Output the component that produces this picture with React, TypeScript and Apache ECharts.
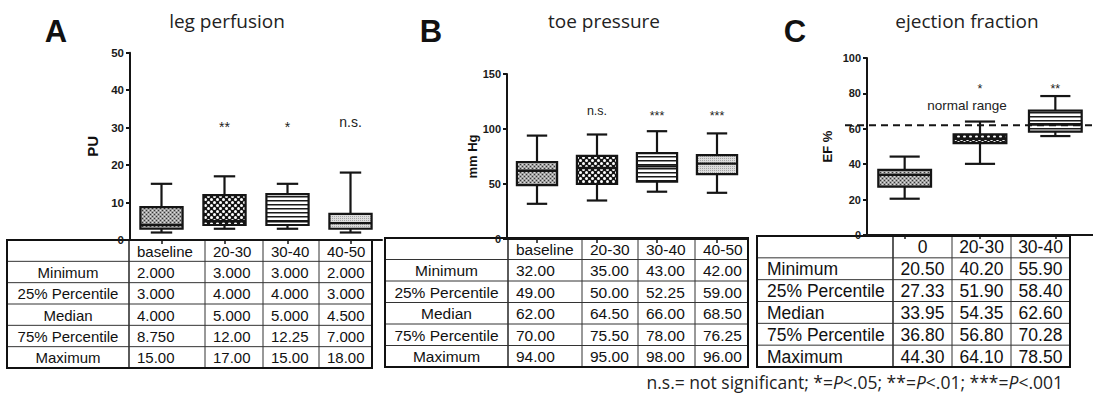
import React, { useEffect, useRef } from 'react';
import * as echarts from 'echarts';

// ---------------- DATA ----------------
const rowLabels = ['Minimum', '25% Percentile', 'Median', '75% Percentile', 'Maximum'];

const catsA = ['baseline', '20-30', '30-40', '40-50'];
const minA = [2, 3, 3, 2];
const q1A = [3, 4, 4, 3];
const medA = [4, 5, 5, 4.5];
const q3A = [8.75, 12, 12.25, 7];
const maxA = [15, 17, 15, 18];
const sigA = ['', '**', '*', 'n.s.'];
const sigLevelA = 31.5;

const catsB = ['baseline', '20-30', '30-40', '40-50'];
const minB = [32, 35, 43, 42];
const q1B = [49, 50, 52.25, 59];
const medB = [62, 64.5, 66, 68.5];
const q3B = [70, 75.5, 78, 76.25];
const maxB = [94, 95, 98, 96];
const sigB = ['', 'n.s.', '***', '***'];
const sigLevelB = 116;

const catsC = ['0', '20-30', '30-40'];
const minC = [20.5, 40.2, 55.9];
const q1C = [27.33, 51.9, 58.4];
const medC = [33.95, 54.35, 62.6];
const q3C = [36.8, 56.8, 70.28];
const maxC = [44.3, 64.1, 78.5];
const sigC = ['', '*', '**'];
const sigLevelC = 85;
const normalRangeEF = 62;

// ---------------- STYLE / LAYOUT ----------------
const FONT = '"Liberation Sans", Arial, sans-serif';
const TFONT = '"Open Sans", "Noto Sans", sans-serif';
const INK = '#151515';

const stats = (mn: number[], q1: number[], md: number[], q3: number[], mx: number[]) =>
  mn.map((_, i) => [mn[i], q1[i], md[i], q3[i], mx[i]]);

function makePatterns() {
  const mk = (w: number, h: number, draw: (ctx: CanvasRenderingContext2D) => void) => {
    const c = document.createElement('canvas');
    c.width = w;
    c.height = h;
    const ctx = c.getContext('2d')!;
    draw(ctx);
    return { image: c.toDataURL(), repeat: 'repeat', imageWidth: w, imageHeight: h } as any;
  };
  const darkDots = mk(4, 4, (ctx) => {
    ctx.fillStyle = '#a0a0a0';
    ctx.fillRect(0, 0, 4, 4);
    ctx.fillStyle = '#363636';
    ctx.fillRect(0, 0, 1, 1);
    ctx.fillRect(2, 2, 1, 1);
    ctx.fillStyle = '#e0e0e0';
    ctx.fillRect(2, 0, 1, 1);
    ctx.fillRect(0, 2, 1, 1);
  });
  const checker = mk(6, 6, (ctx) => {
    ctx.fillStyle = '#141414';
    ctx.fillRect(0, 0, 6, 6);
    ctx.fillStyle = '#ffffff';
    ctx.beginPath();
    ctx.arc(1.5, 1.5, 1.5, 0, Math.PI * 2);
    ctx.fill();
    ctx.beginPath();
    ctx.arc(4.5, 4.5, 1.5, 0, Math.PI * 2);
    ctx.fill();
  });
  const stripes = mk(4, 4, (ctx) => {
    ctx.fillStyle = '#ffffff';
    ctx.fillRect(0, 0, 4, 4);
    ctx.fillStyle = '#1a1a1a';
    ctx.fillRect(0, 0, 4, 1);
    ctx.fillStyle = '#8a8a8a';
    ctx.fillRect(0, 1, 4, 1);
  });
  const lightDots = mk(2, 2, (ctx) => {
    ctx.fillStyle = '#dcdcdc';
    ctx.fillRect(0, 0, 2, 2);
    ctx.fillStyle = '#a4a4a4';
    ctx.fillRect(0, 0, 1, 1);
  });
  return { darkDots, checker, stripes, lightDots };
}

const boxRenderer = (fills: any[], boxR: number, capR: number) => (params: any, api: any) => {
  const i = api.value(0);
  const v = [1, 2, 3, 4, 5].map((k) => api.value(k));
  const ys = v.map((val) => api.coord([i, val])[1]);
  const xc = api.coord([i, v[0]])[0];
  const band = api.size([1, 0])[0];
  const bw = band * boxR;
  const cw = band * capR;
  const ls = { stroke: INK, lineWidth: 2.2 };
  return {
    type: 'group',
    children: [
      { type: 'line', shape: { x1: xc, y1: ys[4], x2: xc, y2: ys[3] }, style: ls },
      { type: 'line', shape: { x1: xc, y1: ys[1], x2: xc, y2: ys[0] }, style: ls },
      { type: 'line', shape: { x1: xc - cw / 2, y1: ys[4], x2: xc + cw / 2, y2: ys[4] }, style: ls },
      { type: 'line', shape: { x1: xc - cw / 2, y1: ys[0], x2: xc + cw / 2, y2: ys[0] }, style: ls },
      {
        type: 'rect',
        shape: { x: xc - bw / 2, y: ys[3], width: bw, height: ys[1] - ys[3] },
        style: { fill: fills[params.dataIndex], stroke: INK, lineWidth: 2.2 },
      },
      { type: 'line', shape: { x1: xc - bw / 2, y1: ys[2], x2: xc + bw / 2, y2: ys[2] }, style: { stroke: INK, lineWidth: 2.4 } },
    ],
  };
};

const sigRenderer = (labels: string[], size: number) => (params: any, api: any) => {
  const s = labels[params.dataIndex];
  const p = api.coord([api.value(0), api.value(1)]);
  const starOnly = /^\*+$/.test(s);
  return {
    type: 'text',
    x: p[0],
    y: p[1] + (starOnly ? size * 0.35 : 0),
    style: {
      text: s,
      fill: '#222',
      fontSize: size,
      fontFamily: FONT,
      align: 'center',
      verticalAlign: 'middle',
      textAlign: 'center',
      textVerticalAlign: 'middle',
    },
  };
};

function txt(s: string, x: number, y: number, size: number, align: string, extra: any = {}) {
  return {
    type: 'text',
    x,
    y,
    silent: true,
    style: {
      text: s,
      fill: '#111',
      fontSize: size,
      fontFamily: FONT,
      align,
      verticalAlign: 'middle',
      textAlign: align,
      textVerticalAlign: 'middle',
      ...extra,
    },
  };
}

function ln(x1: number, y1: number, x2: number, y2: number, w: number, c: string) {
  return { type: 'line', silent: true, shape: { x1, y1, x2, y2 }, style: { stroke: c, lineWidth: w } };
}

type TableSpec = {
  xs: number[];
  top: number;
  bottom: number;
  header: string[];
  st: number[][];
  fmt: (v: number) => string;
  labelAlign: 'center' | 'left';
  valueAlign: 'center' | 'left';
  fontSize: number;
};

function tableEls(t: TableSpec) {
  const els: any[] = [];
  const nRows = rowLabels.length + 1;
  const rh = (t.bottom - t.top) / nRows;
  const x0 = t.xs[0];
  const x1 = t.xs[t.xs.length - 1];
  for (let r = 1; r < nRows; r++) els.push(ln(x0, t.top + r * rh, x1, t.top + r * rh, 1, '#333'));
  for (let c = 1; c < t.xs.length - 1; c++) els.push(ln(t.xs[c], t.top, t.xs[c], t.bottom, c === 1 ? 1.6 : 1, '#333'));
  els.push({
    type: 'rect',
    silent: true,
    shape: { x: x0, y: t.top, width: x1 - x0, height: t.bottom - t.top },
    style: { fill: 'none', stroke: '#111', lineWidth: 2 },
  });
  const cellX = (c: number, align: string) =>
    align === 'center' ? (t.xs[c] + t.xs[c + 1]) / 2 : t.xs[c] + 8;
  t.header.forEach((h, c) => {
    els.push(txt(h, cellX(c + 1, t.valueAlign), t.top + rh / 2 + 0.5, t.fontSize, t.valueAlign));
  });
  rowLabels.forEach((lab, r) => {
    const y = t.top + (r + 1.5) * rh + 0.5;
    els.push(txt(lab, t.labelAlign === 'center' ? (t.xs[0] + t.xs[1]) / 2 : t.xs[0] + 10, y, t.fontSize, t.labelAlign));
    t.st.forEach((col, c) => {
      els.push(txt(t.fmt(col[r]), cellX(c + 1, t.valueAlign), y, t.fontSize, t.valueAlign));
    });
  });
  return els;
}

function yAxisCfg(gridIndex: number, max: number, interval: number, name: string, nameSize: number, nameGap: number, labelSize: number) {
  return {
    type: 'value',
    gridIndex,
    min: 0,
    max,
    interval,
    name,
    nameLocation: 'middle',
    nameGap,
    nameTextStyle: { fontFamily: FONT, fontWeight: 'bold', fontSize: nameSize, color: '#111' },
    axisLine: { show: true, lineStyle: { color: INK, width: 2 } },
    axisTick: { show: true, length: 4, lineStyle: { color: INK, width: 2 } },
    axisLabel: { fontFamily: FONT, fontWeight: 'bold', fontSize: labelSize, color: '#1a1a1a', margin: 6 },
    splitLine: { show: false },
  };
}

function xAxisCfg(gridIndex: number, cats: string[]) {
  return {
    type: 'category',
    gridIndex,
    data: cats,
    boundaryGap: true,
    axisLine: { show: true, lineStyle: { color: INK, width: 2 } },
    axisTick: { show: true, alignWithLabel: true, length: 4, lineStyle: { color: INK, width: 1.5 } },
    axisLabel: { show: false },
    splitLine: { show: false },
  };
}

function buildOption() {
  const P = makePatterns();
  const fillsAB = [P.darkDots, P.checker, P.stripes, P.lightDots];
  const fillsC = [P.darkDots, P.checker, P.stripes];
  const stA = stats(minA, q1A, medA, q3A, maxA);
  const stB = stats(minB, q1B, medB, q3B, maxB);
  const stC = stats(minC, q1C, medC, q3C, maxC);
  const boxData = (st: number[][]) => st.map((s, i) => [i, ...s]);

  const graphics: any[] = [
    txt('A', 56, 31, 31, 'center', { fontWeight: 'bold', fill: '#111' }),
    txt('B', 431, 31, 31, 'center', { fontWeight: 'bold', fill: '#111' }),
    txt('C', 795, 31, 31, 'center', { fontWeight: 'bold', fill: '#111' }),
    txt('leg perfusion', 227, 21, 19, 'center', { fontFamily: TFONT, fill: '#222' }),
    txt('toe pressure', 604, 21, 19, 'center', { fontFamily: TFONT, fill: '#222' }),
    txt('ejection fraction', 967, 21, 19, 'center', { fontFamily: TFONT, fill: '#222' }),
    ...tableEls({
      xs: [7, 129, 205, 263, 319, 372],
      top: 240,
      bottom: 368,
      header: catsA,
      st: stA,
      fmt: (v) => v.toPrecision(4),
      labelAlign: 'center',
      valueAlign: 'left',
      fontSize: 15,
    }),
    ...tableEls({
      xs: [385, 508, 582, 638, 695, 748],
      top: 238,
      bottom: 367,
      header: catsB,
      st: stB,
      fmt: (v) => v.toFixed(2),
      labelAlign: 'center',
      valueAlign: 'left',
      fontSize: 15.5,
    }),
    ...tableEls({
      xs: [757, 893, 952, 1011, 1070],
      top: 236,
      bottom: 367,
      header: catsC,
      st: stC,
      fmt: (v) => v.toFixed(2),
      labelAlign: 'left',
      valueAlign: 'center',
      fontSize: 17.5,
    }),
    {
      type: 'text',
      x: 1063,
      y: 382,
      silent: true,
      style: {
        text: '{n|n.s.= not significant; *=}{i|P}{n|<.05; **=}{i|P}{n|<.01; ***=}{i|P}{n|<.001}',
        fill: '#222',
        fontSize: 17.5,
        fontFamily: TFONT,
        align: 'right',
        verticalAlign: 'middle',
        textAlign: 'right',
        textVerticalAlign: 'middle',
        rich: {
          n: { fontSize: 17.5, fontFamily: TFONT, fill: '#222' },
          i: { fontSize: 17.5, fontFamily: TFONT, fontStyle: 'italic', fill: '#222' },
        },
      },
    },
  ];

  return {
    animation: false,
    backgroundColor: '#fff',
    grid: [
      { left: 130, top: 52.7, width: 252, height: 187.3, containLabel: false, outerBoundsMode: 'none' },
      { left: 507, top: 74, width: 240, height: 165, containLabel: false, outerBoundsMode: 'none' },
      { left: 867, top: 58, width: 226, height: 177, containLabel: false, outerBoundsMode: 'none' },
    ],
    xAxis: [xAxisCfg(0, catsA), xAxisCfg(1, catsB), xAxisCfg(2, catsC)],
    yAxis: [
      yAxisCfg(0, 50, 10, 'PU', 15, 30, 11.5),
      yAxisCfg(1, 150, 50, 'mm Hg', 13, 28, 11),
      yAxisCfg(2, 100, 20, 'EF %', 13, 33, 11),
    ],
    series: [
      {
        type: 'custom',
        xAxisIndex: 0,
        yAxisIndex: 0,
        clip: false,
        encode: { x: 0, y: [1, 2, 3, 4, 5] },
        data: boxData(stA),
        renderItem: boxRenderer(fillsAB, 0.67, 0.34),
      },
      {
        type: 'custom',
        xAxisIndex: 1,
        yAxisIndex: 1,
        clip: false,
        encode: { x: 0, y: [1, 2, 3, 4, 5] },
        data: boxData(stB),
        renderItem: boxRenderer(fillsAB, 0.67, 0.34),
      },
      {
        type: 'custom',
        xAxisIndex: 2,
        yAxisIndex: 2,
        clip: false,
        encode: { x: 0, y: [1, 2, 3, 4, 5] },
        data: boxData(stC),
        renderItem: boxRenderer(fillsC, 0.7, 0.4),
      },
      {
        type: 'custom',
        xAxisIndex: 0,
        yAxisIndex: 0,
        clip: false,
        data: catsA.map((_, i) => [i, sigLevelA]),
        renderItem: sigRenderer(sigA, 14),
      },
      {
        type: 'custom',
        xAxisIndex: 1,
        yAxisIndex: 1,
        clip: false,
        data: catsB.map((_, i) => [i, sigLevelB]),
        renderItem: sigRenderer(sigB, 12.5),
      },
      {
        type: 'custom',
        xAxisIndex: 2,
        yAxisIndex: 2,
        clip: false,
        data: catsC.map((_, i) => [i, sigLevelC]),
        renderItem: sigRenderer(sigC, 12.5),
      },
      {
        type: 'custom',
        xAxisIndex: 2,
        yAxisIndex: 2,
        clip: false,
        data: [[0, normalRangeEF]],
        renderItem: (params: any, api: any) => {
          const y = api.coord([0, api.value(1)])[1];
          return {
            type: 'group',
            children: [
              {
                type: 'line',
                shape: { x1: 845, y1: y, x2: 1093, y2: y },
                style: { stroke: INK, lineWidth: 2.2, lineDash: [7, 5] },
              },
              {
                type: 'text',
                x: 967,
                y: y - 20,
                style: {
                  text: 'normal range',
                  fill: '#222',
                  fontSize: 13.5,
                  fontFamily: FONT,
                  align: 'center',
                  verticalAlign: 'middle',
                  textAlign: 'center',
                  textVerticalAlign: 'middle',
                },
              },
            ],
          };
        },
      },
    ],
    graphic: { elements: graphics },
  };
}

export default function App() {
  const ref = useRef<HTMLDivElement>(null);
  useEffect(() => {
    const chart = echarts.init(ref.current!, null, { renderer: 'svg', width: 1093, height: 394 });
    chart.setOption(buildOption() as any);
    return () => chart.dispose();
  }, []);
  return (
    <div
      ref={ref}
      style={{ position: 'absolute', left: 0, top: 0, width: 1093, height: 394, background: '#fff' }}
    />
  );
}
